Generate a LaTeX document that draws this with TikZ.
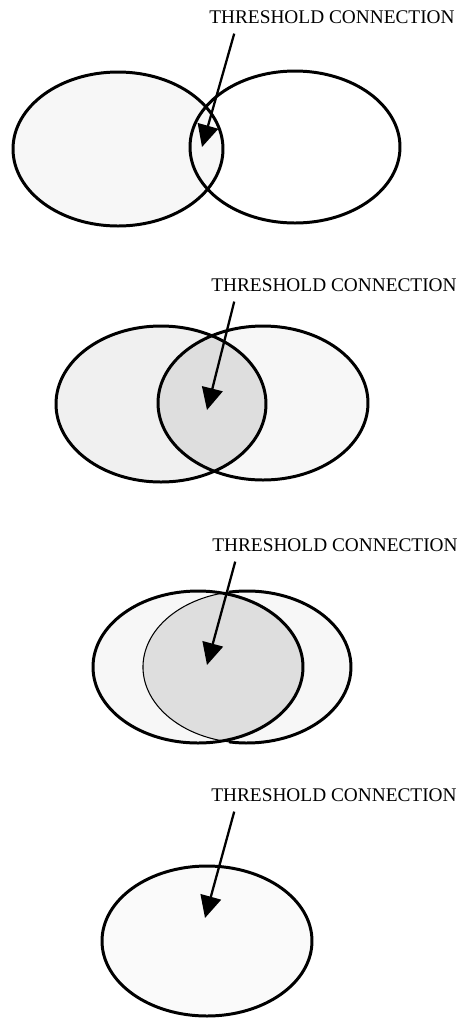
\documentclass[tikz,border=0pt]{standalone}
\usepackage{fontspec}
\setmainfont{Liberation Serif}
\usetikzlibrary{arrows.meta,positioning,calc}

\begin{document}
\begin{tikzpicture}[x=0.02cm,y=-0.02cm,>={Triangle[length=4.4mm,width=4.2mm]},
 lbl/.style={font=\fontsize{11}{13}\selectfont,inner sep=1pt},
 ring/.style={line width=1.7pt},
 thinring/.style={line width=0.6pt},
 pointer/.style={->,line width=1.3pt},
 faint/.style={fill=black!3},
 dots/.style={fill=black!6},
 core/.style={fill=black!13}]
\useasboundingbox (0,0) rectangle (460,1019);

% just touching
\node[lbl] (lbl1) at (332,17) {THRESHOLD CONNECTION};
\coordinate (l1) at (118,149);
\coordinate (r1) at (295,147);
\coordinate (tip1) at (202,147);
\fill[faint] (l1) ellipse [x radius=105,y radius=77];
\draw[ring] (l1) ellipse [x radius=105,y radius=77];
\draw[ring] (r1) ellipse [x radius=105,y radius=76];
\draw[pointer] ($(lbl1.south west)+(27,8)$) -- (tip1);

% half overlap
\node[lbl] (lbl2) at (334,285) {THRESHOLD CONNECTION};
\coordinate (l2) at (161,404);
\coordinate (r2) at (263,403);
\coordinate (tip2) at (207,410);
\fill[dots] (l2) ellipse [x radius=105,y radius=78];
\fill[faint] (r2) ellipse [x radius=105,y radius=77];
\begin{scope}
\clip (l2) ellipse [x radius=105,y radius=78];
\fill[core] (r2) ellipse [x radius=105,y radius=77];
\end{scope}
\draw[ring] (l2) ellipse [x radius=105,y radius=78];
\draw[ring] (r2) ellipse [x radius=105,y radius=77];
\draw[pointer] ($(lbl2.south west)+(25,8)$) -- (tip2);

% mostly overlapping
\node[lbl] (lbl3) at (335,545) {THRESHOLD CONNECTION};
\coordinate (l3) at (198,667);
\coordinate (r3) at (247,667);
\coordinate (tip3) at (207,665);
\fill[faint] (l3) ellipse [x radius=105,y radius=76];
\fill[faint] (r3) ellipse [x radius=104,y radius=76];
\begin{scope}
\clip (l3) ellipse [x radius=105,y radius=76];
\fill[core] (r3) ellipse [x radius=104,y radius=76];
\end{scope}
\draw[ring] (l3) ellipse [x radius=105,y radius=76];
\draw[thinring] (r3) ++(100:104 and 76) arc[start angle=100,end angle=260,x radius=104,y radius=76];
\draw[ring] (r3) ++(-100:104 and 76) arc[start angle=-100,end angle=100,x radius=104,y radius=76];
\draw[pointer] ($(lbl3.south west)+(25,8)$) -- (tip3);

% full overlap
\node[lbl] (lbl4) at (334,795) {THRESHOLD CONNECTION};
\coordinate (c4) at (207,941);
\coordinate (tip4) at (205,918);
\fill[black!2] (c4) ellipse [x radius=105,y radius=75];
\draw[ring] (c4) ellipse [x radius=105,y radius=75];
\draw[pointer] ($(lbl4.south west)+(25,8)$) -- (tip4);
\end{tikzpicture}
\end{document}
